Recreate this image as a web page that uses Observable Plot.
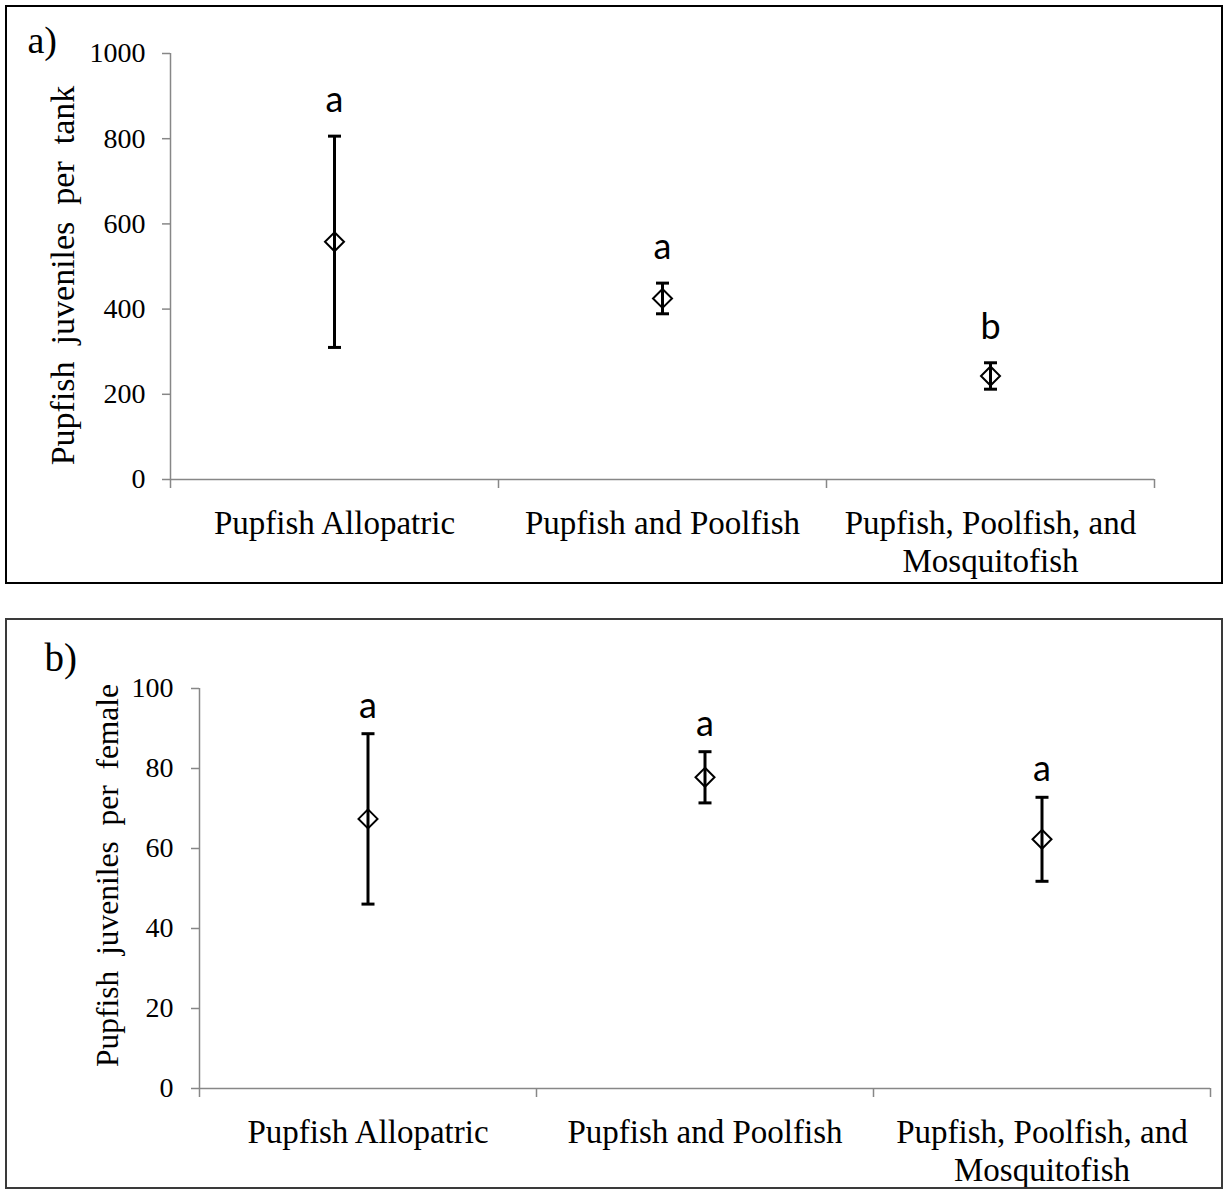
<!DOCTYPE html>
<html>
<head>
<meta charset="utf-8">
<script src="https://cdn.jsdelivr.net/npm/d3@7"></script>
<script src="https://cdn.jsdelivr.net/npm/@observablehq/plot@0.6"></script>
<style>
  html, body { margin: 0; padding: 0; background: #fff; }
  body { position: relative; width: 1226px; height: 1191px; overflow: hidden; }
  .panel { position: absolute; left: 0; }
  .box { position: absolute; box-sizing: border-box; pointer-events: none; }
</style>
</head>
<body>
<div id="pa" class="panel" style="top:0"></div>
<div id="pb" class="panel" style="top:600px"></div>
<div class="box" style="left:5px;top:5px;width:1218px;height:579px;border:2px solid #000"></div>
<div class="box" style="left:5px;top:618px;width:1218px;height:571px;border:2px solid #3a3a3a"></div>
<script>
// ---- data ----
const categories = ["Pupfish Allopatric", "Pupfish and Poolfish", "Pupfish, Poolfish, and\nMosquitofish"];
const tankMean = [558, 425, 243];
const tankSE = [248, 36, 31];
const tankLetters = ["a", "a", "b"];
const tankTicks = [0, 200, 400, 600, 800, 1000];
const femaleMean = [67.4, 77.8, 62.3];
const femaleSE = [21.3, 6.4, 10.5];
const femaleLetters = ["a", "a", "a"];
const femaleTicks = [0, 20, 40, 60, 80, 100];
const panelLabels = ["a)", "b)"];
const yTitles = ["Pupfish\u00a0 juveniles\u00a0 per\u00a0 tank", "Pupfish\u00a0 juveniles\u00a0 per\u00a0 female"];

const serif = "'Liberation Serif', 'Times New Roman', serif";
const sans = "Lato, 'Liberation Sans', sans-serif";
const axisGrey = "#878787";

const capSymbol = { draw(ctx) { ctx.moveTo(-6.5, 0); ctx.lineTo(6.5, 0); } };
const diamondSymbol = { draw(ctx) { const r = 9.5; ctx.moveTo(0, -r); ctx.lineTo(r, 0); ctx.lineTo(0, r); ctx.lineTo(-r, 0); ctx.closePath(); } };

function makePanel(opts) {
  const rows = categories.map((c, i) => ({
    pos: i + 0.5,
    mean: opts.mean[i],
    lo: opts.mean[i] - opts.se[i],
    hi: opts.mean[i] + opts.se[i],
    letter: opts.letters[i]
  }));
  const bounds = d3.range(categories.length + 1);
  const centers = categories.map((c, i) => i + 0.5);
  const yMax = opts.ticks[opts.ticks.length - 1];
  return Plot.plot({
    width: 1226,
    height: opts.height,
    marginLeft: opts.ml,
    marginRight: opts.mr,
    marginTop: opts.mt,
    marginBottom: opts.mb,
    style: { fontFamily: serif, fontSize: "28px", color: "#000", background: "transparent", overflow: "visible" },
    x: { domain: [0, categories.length], axis: null },
    y: { domain: [0, yMax], axis: null },
    marks: [
      // axis lines
      Plot.ruleX([0], { y1: 0, y2: yMax, stroke: axisGrey, strokeWidth: 1.5 }),
      Plot.ruleY([0], { x1: 0, x2: categories.length, stroke: axisGrey, strokeWidth: 1.5 }),
      // y axis
      Plot.axisY({ ticks: opts.ticks, tickSize: 8, tickPadding: opts.tp, stroke: axisGrey, strokeWidth: 1.5, fill: "#000", fontSize: 28, label: null, tickFormat: d => String(d) }),
      // x boundary ticks
      Plot.axisX({ ticks: bounds, tickSize: 9, stroke: axisGrey, strokeWidth: 1.5, tickFormat: () => "", label: null }),
      // x category labels
      Plot.axisX({ ticks: centers, tickSize: 0, tickPadding: 28, fill: "#000", fontSize: 33, lineHeight: 1.15, label: null, tickFormat: (d, i) => categories[Math.round(d - 0.5)] }),
      // y title
      Plot.text([opts.title], { frameAnchor: "left", textAnchor: "middle", lineAnchor: "middle", rotate: -90, dx: opts.tdx, dy: opts.tdy, fontSize: opts.tfs, fill: "#000" }),
      // panel label
      Plot.text([opts.plabel], { frameAnchor: "top-left", textAnchor: "start", lineAnchor: "bottom", dx: opts.pdx, dy: opts.pdy, fontSize: opts.pfs, fill: "#000" }),
      // markers
      Plot.dot(rows, { x: "pos", y: "mean", symbol: diamondSymbol, fill: "none", stroke: "#000", strokeWidth: 2 }),
      // error bars
      Plot.ruleX(rows, { x: "pos", y1: "lo", y2: "hi", stroke: "#000", strokeWidth: 3 }),
      Plot.dot(rows, { x: "pos", y: "lo", symbol: capSymbol, fill: "none", stroke: "#000", strokeWidth: 3 }),
      Plot.dot(rows, { x: "pos", y: "hi", symbol: capSymbol, fill: "none", stroke: "#000", strokeWidth: 3 }),
      // significance letters
      Plot.text(rows, { x: "pos", y: "hi", text: "letter", lineAnchor: "bottom", dy: opts.ldy, fontFamily: sans, fontSize: 36, fill: "#000" })
    ]
  });
}

document.getElementById("pa").append(makePanel({
  mean: tankMean, se: tankSE, letters: tankLetters, ticks: tankTicks,
  height: 600, ml: 170, mr: 72, mt: 53, mb: 121, tp: 17,
  title: yTitles[0], tdx: -107, tdy: 9, tfs: 34,
  plabel: panelLabels[0], pdx: -143, pdy: -1, pfs: 38,
  ldy: -24
}));
document.getElementById("pb").append(makePanel({
  mean: femaleMean, se: femaleSE, letters: femaleLetters, ticks: femaleTicks,
  height: 591, ml: 199, mr: 16, mt: 88, mb: 103, tp: 18,
  title: yTitles[1], tdx: -92, tdy: -13, tfs: 31.5,
  plabel: panelLabels[1], pdx: -155, pdy: -18, pfs: 39,
  ldy: -16
}));
</script>
</body>
</html>
